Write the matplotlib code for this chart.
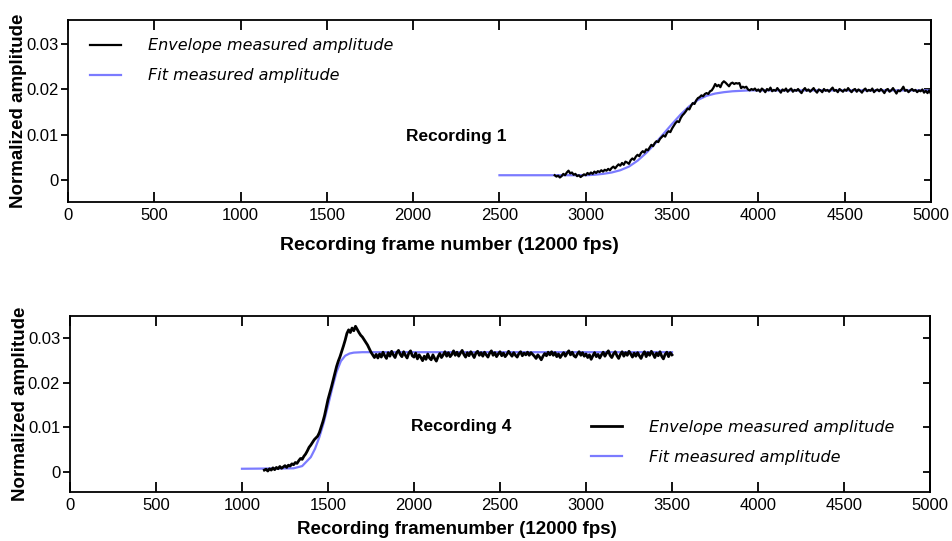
import matplotlib
matplotlib.use("Agg")
import matplotlib.pyplot as plt
import numpy as np

plt.rcParams.update({
    "font.family": "Liberation Sans", "font.size": 12,
    "axes.linewidth": 1.3,
})

ENV_COLOR = "black"
FIT_COLOR = "#7b7bff"

# ---- Recording 1: envelope sampled every 10 frames from 2820 to 5000 ----
rec1_env_start, rec1_env_step = 2820, 10
rec1_env = [
    0.0011, 0.0008, 0.0010, 0.0006, 0.0009, 0.0014, 0.0011, 0.0017,
    0.0021, 0.0015, 0.0017, 0.0012, 0.0014, 0.0009, 0.0011, 0.0007, 0.0010, 0.0013,
    0.0011, 0.0016, 0.0013, 0.0017, 0.0014, 0.0019, 0.0016, 0.0020, 0.0018, 0.0022,
    0.0019, 0.0023, 0.0021, 0.0025, 0.0022, 0.0027, 0.0030, 0.0026, 0.0031, 0.0035,
    0.0032, 0.0038, 0.0034, 0.0041, 0.0039, 0.0036, 0.0044, 0.0048, 0.0045, 0.0052,
    0.0056, 0.0053, 0.0060, 0.0064, 0.0061, 0.0068, 0.0066, 0.0072, 0.0078, 0.0075,
    0.0082, 0.0086, 0.0084, 0.0091, 0.0095, 0.0099, 0.0096, 0.0104, 0.0108, 0.0106,
    0.0114, 0.0120, 0.0126, 0.0130, 0.0128, 0.0137, 0.0143, 0.0147, 0.0152, 0.0158,
    0.0156, 0.0164, 0.0170, 0.0168, 0.0176, 0.0181, 0.0183, 0.0187, 0.0185, 0.0190,
    0.0192, 0.0190, 0.0196, 0.0198, 0.0204, 0.0212, 0.0207, 0.0210, 0.0205, 0.0214,
    0.0218, 0.0215, 0.0211, 0.0207, 0.0213, 0.0215, 0.0212, 0.0214, 0.0213, 0.0214,
    0.0203, 0.0206, 0.0204, 0.0206, 0.0200, 0.0198, 0.0201, 0.0199, 0.0202, 0.0197,
    0.0200, 0.0195, 0.0202, 0.0199, 0.0194, 0.0201, 0.0198, 0.0204, 0.0196, 0.0199,
    0.0197, 0.0203, 0.0198, 0.0193, 0.0200, 0.0197, 0.0202, 0.0195, 0.0199, 0.0202,
    0.0195, 0.0199, 0.0197, 0.0201, 0.0196, 0.0192, 0.0199, 0.0203, 0.0197, 0.0200,
    0.0195, 0.0199, 0.0203, 0.0197, 0.0193, 0.0200, 0.0198, 0.0194, 0.0201, 0.0197,
    0.0199, 0.0195, 0.0200, 0.0204, 0.0197, 0.0199, 0.0194, 0.0201, 0.0198, 0.0195,
    0.0200, 0.0197, 0.0203, 0.0198, 0.0194, 0.0199, 0.0201, 0.0195, 0.0200, 0.0197,
    0.0193, 0.0199, 0.0202, 0.0196, 0.0199, 0.0197, 0.0202, 0.0194, 0.0198, 0.0200,
    0.0196, 0.0201, 0.0197, 0.0192, 0.0199, 0.0201, 0.0195, 0.0198, 0.0203, 0.0197,
    0.0191, 0.0198, 0.0196, 0.0200, 0.0206, 0.0197, 0.0199, 0.0194, 0.0198, 0.0201,
    0.0197, 0.0199, 0.0194, 0.0198, 0.0196, 0.0200, 0.0193, 0.0197, 0.0192, 0.0198,
    0.0190,
]
rec1_fit_x = [2500, 3000, 3050, 3100, 3150, 3200, 3250, 3300, 3350, 3400, 3450,
              3500, 3550, 3600, 3650, 3700, 3750, 3800, 3850, 3900, 3950, 4000, 5000]
rec1_fit_y = [0.0011, 0.0011, 0.0012, 0.0014, 0.0017, 0.0022, 0.0030, 0.0043,
              0.0060, 0.0080, 0.0102, 0.0124, 0.0145, 0.0163, 0.0177, 0.0186,
              0.0191, 0.0194, 0.0196, 0.0197, 0.0198, 0.0198, 0.0198]

# ---- Recording 4: envelope sampled every 10 frames from 1130 to 3500 ----
rec4_env_start, rec4_env_step = 1130, 10
rec4_env = [
    0.0004, 0.0006, 0.0002, 0.0007, 0.0004, 0.0009, 0.0005,
    0.0010, 0.0007, 0.0012, 0.0008, 0.0011, 0.0014, 0.0010, 0.0015, 0.0013, 0.0018,
    0.0016, 0.0021, 0.0019, 0.0025, 0.0030, 0.0028, 0.0035, 0.0040, 0.0047, 0.0055,
    0.0060, 0.0066, 0.0072, 0.0076, 0.0080, 0.0088, 0.0100, 0.0112, 0.0126, 0.0144,
    0.0162, 0.0176, 0.0190, 0.0205, 0.0220, 0.0236, 0.0248, 0.0258, 0.0270, 0.0282,
    0.0295, 0.0310, 0.0318, 0.0312, 0.0322, 0.0316, 0.0326, 0.0319, 0.0312, 0.0306,
    0.0302, 0.0296, 0.0290, 0.0284, 0.0276, 0.0268, 0.0262, 0.0256, 0.0263, 0.0255,
    0.0264, 0.0257, 0.0268, 0.0260, 0.0254, 0.0267, 0.0259, 0.0270, 0.0262, 0.0256,
    0.0267, 0.0272, 0.0263, 0.0258, 0.0269, 0.0261, 0.0255, 0.0266, 0.0271, 0.0260,
    0.0257, 0.0266, 0.0253, 0.0262, 0.0256, 0.0249, 0.0259, 0.0252, 0.0264, 0.0255,
    0.0251, 0.0262, 0.0254, 0.0248, 0.0258, 0.0265, 0.0256, 0.0262, 0.0269, 0.0259,
    0.0267, 0.0258, 0.0263, 0.0271, 0.0261, 0.0268, 0.0259, 0.0266, 0.0272, 0.0263,
    0.0257, 0.0267, 0.0260, 0.0269, 0.0263, 0.0256, 0.0266, 0.0270, 0.0261, 0.0267,
    0.0259, 0.0268, 0.0262, 0.0257, 0.0266, 0.0271, 0.0261, 0.0267, 0.0258, 0.0264,
    0.0269, 0.0260, 0.0266, 0.0258, 0.0263, 0.0270, 0.0264, 0.0259, 0.0267, 0.0261,
    0.0257, 0.0265, 0.0269, 0.0260, 0.0266, 0.0262, 0.0268, 0.0261, 0.0267, 0.0263,
    0.0259, 0.0254, 0.0262, 0.0257, 0.0251, 0.0259, 0.0265, 0.0260, 0.0268, 0.0262,
    0.0269, 0.0261, 0.0267, 0.0258, 0.0264, 0.0256, 0.0262, 0.0267, 0.0259, 0.0266,
    0.0271, 0.0262, 0.0268, 0.0260, 0.0257, 0.0264, 0.0269, 0.0261, 0.0267, 0.0259,
    0.0264, 0.0256, 0.0262, 0.0252, 0.0260, 0.0267, 0.0258, 0.0263, 0.0255, 0.0262,
    0.0268, 0.0259, 0.0266, 0.0271, 0.0261, 0.0256, 0.0264, 0.0269, 0.0260, 0.0254,
    0.0263, 0.0269, 0.0259, 0.0267, 0.0261, 0.0270, 0.0264, 0.0257, 0.0266, 0.0259,
    0.0267, 0.0260, 0.0254, 0.0263, 0.0269, 0.0258, 0.0267, 0.0261, 0.0270, 0.0264,
    0.0256, 0.0266, 0.0260, 0.0269, 0.0259, 0.0253, 0.0263, 0.0268, 0.0258, 0.0267,
    0.0262,
]
rec4_fit_x = [1000, 1300, 1350, 1400, 1425, 1450, 1475, 1500, 1525, 1550, 1575,
              1600, 1625, 1650, 1700, 1750, 3500]
rec4_fit_y = [0.0007, 0.0008, 0.0013, 0.0033, 0.0052, 0.0078, 0.0110, 0.0148,
              0.0188, 0.0224, 0.0248, 0.0260, 0.0265, 0.0267, 0.0268, 0.0268, 0.0268]

xticks = [0, 500, 1000, 1500, 2000, 2500, 3000, 3500, 4000, 4500, 5000]
yticks = [0, 0.01, 0.02, 0.03]
ytick_labels = ["0", "0.01", "0.02", "0.03"]

panels = [
    dict(rect=[0.0714, 0.6266, 0.9065, 0.3364], ylim=(-0.0048, 0.0353),
         env=rec1_env, start=rec1_env_start, step=rec1_env_step, env_lw=1.6,
         fx=rec1_fit_x, fy=rec1_fit_y, label="Recording 1", lab_xy=(2250, 0.0097),
         xlabel="Recording frame number (12000 fps)", xlab_size=14,
         xlab_pos=(0.442, -0.19), leg_anchor=(0.026, 0.90)),
    dict(rect=[0.0735, 0.0906, 0.9034, 0.3253], ylim=(-0.0045, 0.0349),
         env=rec4_env, start=rec4_env_start, step=rec4_env_step, env_lw=2.0,
         fx=rec4_fit_x, fy=rec4_fit_y, label="Recording 4", lab_xy=(2275, 0.0101),
         xlabel="Recording framenumber (12000 fps)", xlab_size=13.5,
         xlab_pos=(0.45, -0.165), leg_anchor=(0.606, 0.41)),
]

fig = plt.figure(figsize=(9.52, 5.41), dpi=100)
for p in panels:
    ax = fig.add_axes(p["rect"])
    env = np.array(p["env"])
    frames = p["start"] + p["step"] * np.arange(len(env))
    ax.plot(p["fx"], p["fy"], color=FIT_COLOR, lw=1.6, zorder=2,
            label="Fit measured amplitude")
    ax.plot(frames, env, color=ENV_COLOR, lw=p["env_lw"], zorder=3,
            label="Envelope measured amplitude")
    ax.set_xlim(0, 5000)
    ax.set_ylim(*p["ylim"])
    ax.set_xticks(xticks)
    ax.set_yticks(yticks)
    ax.set_yticklabels(ytick_labels)
    ax.tick_params(axis="x", direction="in", top=True, length=7, width=1.3, pad=4)
    ax.tick_params(axis="y", direction="out", length=5, width=1.3, pad=2)
    sec = ax.secondary_yaxis("right")
    sec.set_yticks(yticks)
    sec.tick_params(direction="in", length=5, width=1.3, labelright=False)

    ax.text(*p["lab_xy"], p["label"], ha="center", va="center",
            fontsize=12.5, fontweight="bold")
    ax.set_xlabel(p["xlabel"], fontsize=p["xlab_size"], fontweight="bold")
    ax.xaxis.set_label_coords(*p["xlab_pos"])
    ax.set_ylabel("Normalized amplitude", fontsize=13.5, fontweight="bold")
    ax.yaxis.set_label_coords(-0.048, 0.5)

    h, l = ax.get_legend_handles_labels()
    ax.legend(h[::-1], l[::-1], loc="upper left", bbox_to_anchor=p["leg_anchor"],
              frameon=False, borderpad=0, borderaxespad=0, handlelength=1.9,
              handletextpad=1.7, labelspacing=0.95,
              prop={"family": "DejaVu Sans", "style": "italic", "size": 11.5})

fig.savefig("out.png", dpi=100)
